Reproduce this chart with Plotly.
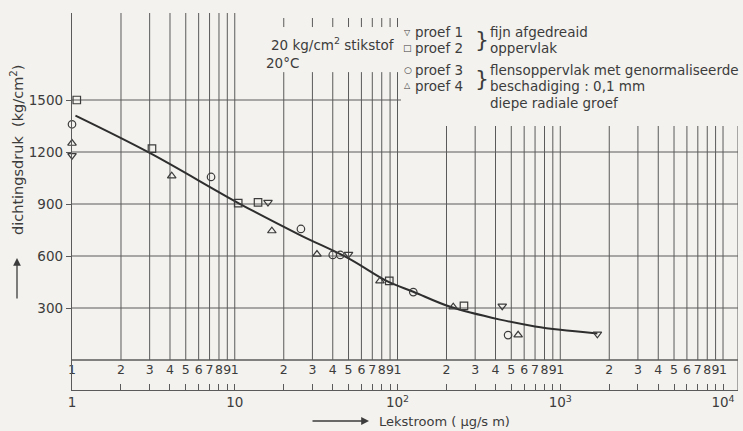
import math
import plotly.graph_objects as go

# ---------------- data ----------------
curve_x = [1.05, 3, 10.8, 25.2, 49.7, 87.5, 125, 211, 427, 700, 1000, 1690]
curve_y = [1410, 1195, 900, 721, 588, 452, 394, 307, 233, 194, 174, 153]

proef1_x = [1.0, 16.0, 50, 440, 1690]
proef1_y = [1180, 910, 610, 312, 150]
proef2_x = [1.07, 3.1, 10.5, 13.9, 89, 256]
proef2_y = [1500, 1220, 905, 910, 456, 312]
proef3_x = [1.0, 7.15, 25.5, 40, 44.5, 125, 478]
proef3_y = [1360, 1056, 756, 606, 606, 392, 144]
proef4_x = [1.0, 4.1, 16.9, 32, 78, 220, 551]
proef4_y = [1250, 1062, 745, 610, 456, 306, 144]

y_ticks = [300, 600, 900, 1200, 1500]
decades = [1, 10, 100, 1000, 10000]
decade_labels = ["1", "10", "10<sup>2</sup>", "10<sup>3</sup>", "10<sup>4</sup>"]
mantissas = [1, 2, 3, 4, 5, 6, 7, 8, 9]

# ---------------- layout constants ----------------
W, H = 743, 431
L, R, T, B = 72, 5, 13, 41
X_MAX_LOG = 4.092
Y_MIN, Y_MAX = -173, 2002
INK = "#3c3c3c"
GRID = "#5a5a5a"
BG = "#f3f2ee"
FONT = "DejaVu Sans"

minor_x = [m * 10 ** k for k in range(4) for m in mantissas] + [10000]
digit_text = [str(int(round(v / 10 ** math.floor(math.log10(v) + 1e-9)))) for v in minor_x]

fig = go.Figure()

# grid as shapes
shapes = []
def vline(x, y0, y1, w=1):
    shapes.append(dict(type="line", xref="x", yref="y", x0=x, x1=x, y0=y0, y1=y1,
                       line=dict(color=GRID, width=w), layer="below"))
def hline(y, x0, x1, w=1):
    shapes.append(dict(type="line", xref="x", yref="y", x0=x0, x1=x1, y0=y, y1=y,
                       line=dict(color=GRID, width=w), layer="below"))

x_right = 10 ** X_MAX_LOG
for v in minor_x:
    if v == 1:
        continue
    if v <= 10:
        vline(v, 0, Y_MAX)
    elif v <= 100:
        vline(v, 0, 1661)
        vline(v, 1921, 1973)
    else:
        vline(v, 0, 1350)
vline(x_right, Y_MIN, 1350)
for yv in y_ticks[:-1]:
    hline(yv, 1, x_right)
hline(1500, 1, 105)
hline(0, 1, x_right, 1.3)

fig.add_trace(go.Scatter(x=curve_x, y=curve_y, mode="lines",
                         line=dict(color="#2e2e2e", width=2, shape="spline", smoothing=1.0),
                         hoverinfo="skip", showlegend=False))

mk = dict(size=7.5, color=INK, line=dict(width=1.2, color=INK))
for xs, ys, sym in [(proef1_x, proef1_y, "triangle-down-open"),
                    (proef2_x, proef2_y, "square-open"),
                    (proef3_x, proef3_y, "circle-open"),
                    (proef4_x, proef4_y, "triangle-up-open")]:
    fig.add_trace(go.Scatter(x=xs, y=ys, mode="markers", cliponaxis=False,
                             marker=dict(symbol=sym, **mk), showlegend=False))

# digit labels inside the strip below y=0
fig.add_trace(go.Scatter(x=minor_x, y=[-63] * len(minor_x), mode="text", text=digit_text,
                         textfont=dict(family=FONT, size=12.5, color=INK), cliponaxis=False,
                         hoverinfo="skip", showlegend=False))

def P(px, py):
    return dict(x=(px - L) / (W - L - R), y=(H - B - py) / (H - T - B), xref="paper", yref="paper")

ann = []
def txt(s, px, py, size=13.5, xa="left", **kw):
    ann.append(dict(text=s, showarrow=False, xanchor=xa, yanchor="middle",
                    font=dict(family=FONT, size=size, color=INK), **P(px, py), **kw))

txt("20 kg/cm<sup>2</sup> stikstof", 269, 44, size=13.5)
txt("20°C", 264, 63, size=13.5)
txt("▽", 408, 32, size=8, xa="center")
txt("□", 408, 48, size=9, xa="center")
txt("○", 408, 70, size=9, xa="center")
txt("△", 408, 86, size=8, xa="center")
txt("proef 1", 413, 32)
txt("proef 2", 413, 48)
txt("proef 3", 413, 70)
txt("proef 4", 413, 86)
txt("}", 482, 40, size=22, xa="center")
txt("}", 482, 78, size=22, xa="center")
txt("fijn afgedreaid", 488, 32)
txt("oppervlak", 488, 48)
txt("flensoppervlak met genormaliseerde", 488, 70)
txt("beschadiging : 0,1 mm", 488, 86)
txt("diepe radiale groef", 488, 103)

# axis titles
txt("dichtingsdruk  (kg/cm<sup>2</sup>)", 17, 150, size=14.5, xa="center", textangle=-90)
ann.append(dict(text="", showarrow=True, arrowhead=2, arrowsize=1.2, arrowwidth=1.3,
                arrowcolor=INK, ax=0, ay=42, **P(17, 258)))
txt("Lekstroom ( μg/s m)", 377, 421, size=13)
ann.append(dict(text="", showarrow=True, arrowhead=2, arrowsize=1.2, arrowwidth=1.3,
                arrowcolor=INK, ax=-58, ay=0, **P(369, 421)))

fig.update_layout(
    width=W, height=H, margin=dict(l=L, r=R, t=T, b=B),
    paper_bgcolor=BG, plot_bgcolor=BG,
    shapes=shapes, annotations=ann, showlegend=False,
    xaxis=dict(type="log", range=[0, X_MAX_LOG], showgrid=False, zeroline=False,
               showline=True, linecolor=GRID, linewidth=1.3,
               tickmode="array", tickvals=decades, ticktext=decade_labels,
               ticks="inside", ticklen=6, tickcolor=GRID,
               minor=dict(tickmode="array", tickvals=minor_x, ticks="inside",
                          ticklen=6, tickcolor=GRID, showgrid=False),
               tickfont=dict(family=FONT, size=13.5, color=INK)),
    yaxis=dict(range=[Y_MIN, Y_MAX], showgrid=False, zeroline=False,
               showline=True, linecolor=GRID, linewidth=1.3,
               tickmode="array", tickvals=y_ticks, ticktext=[str(v) for v in y_ticks],
               ticks="outside", ticklen=5, tickcolor=GRID,
               tickfont=dict(family=FONT, size=13.5, color=INK)),
)

fig.write_html("out.html")
